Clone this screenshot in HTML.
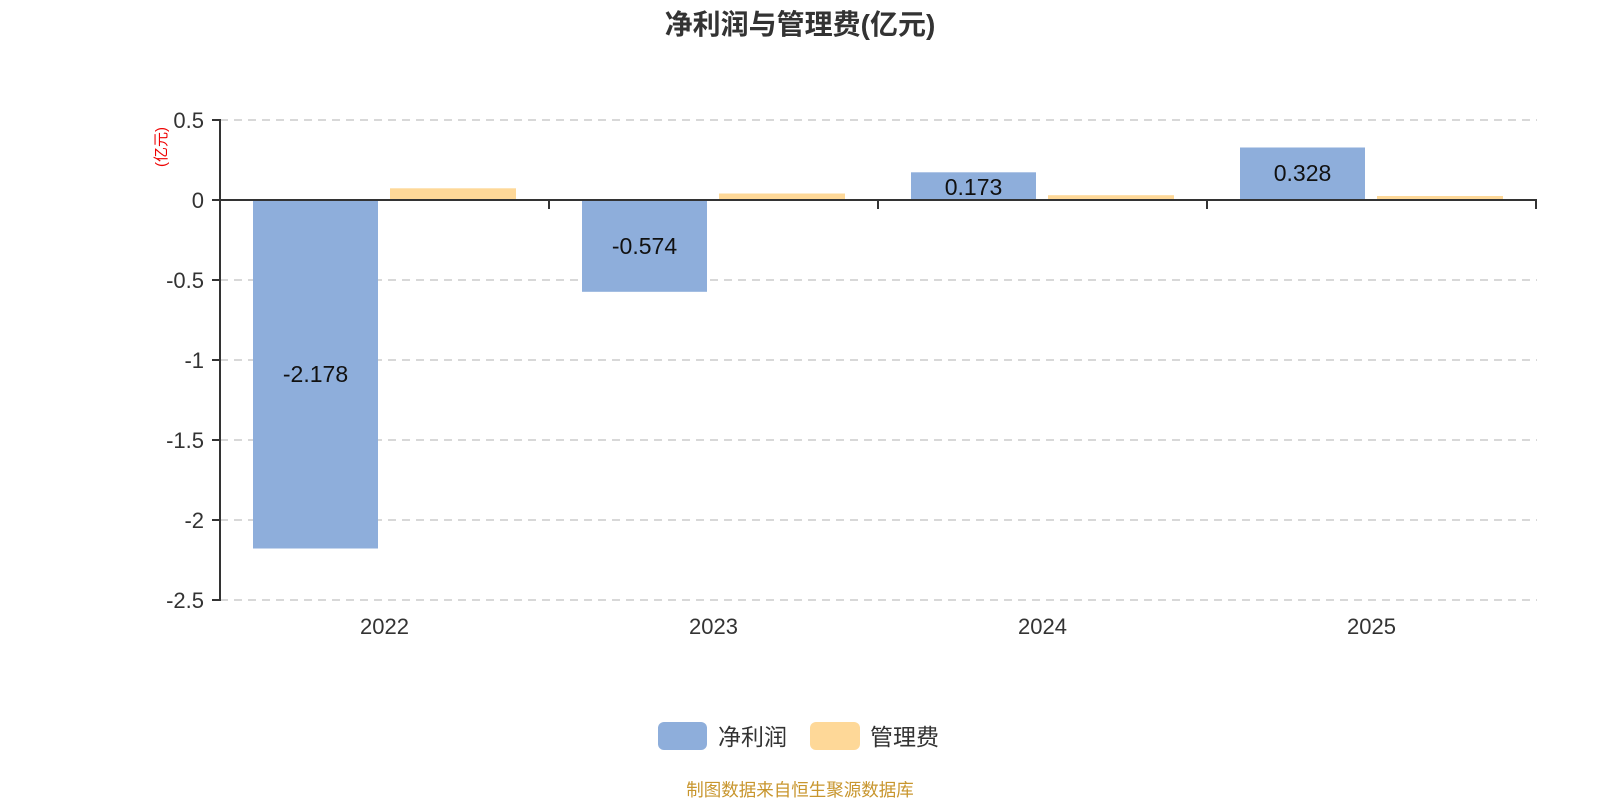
<!DOCTYPE html>
<html><head><meta charset="utf-8"><style>
html,body{margin:0;padding:0;background:#fff;}
svg{display:block;font-family:"Liberation Sans","Noto Sans CJK SC",sans-serif;}
</style></head><body>
<svg width="1600" height="800" viewBox="0 0 1600 800">
<text x="800" y="34" text-anchor="middle" font-size="28" font-weight="bold" fill="#333">净利润与管理费(亿元)</text>
<g stroke="#ccc" stroke-width="1.5" stroke-dasharray="8,6">
<line x1="220" y1="120" x2="1537" y2="120"/>
<line x1="220" y1="280" x2="1537" y2="280"/>
<line x1="220" y1="360" x2="1537" y2="360"/>
<line x1="220" y1="440" x2="1537" y2="440"/>
<line x1="220" y1="520" x2="1537" y2="520"/>
<line x1="220" y1="600" x2="1537" y2="600"/>
</g>
<g fill="#8eaedb">
<rect x="253" y="200" width="125" height="348.5"/>
<rect x="582" y="200" width="125" height="91.8"/>
<rect x="911" y="172.3" width="125" height="27.7"/>
<rect x="1240" y="147.5" width="125" height="52.5"/>
</g>
<g fill="#fed898">
<rect x="390" y="188.3" width="126" height="11.7"/>
<rect x="719" y="193.5" width="126" height="6.5"/>
<rect x="1048" y="195.2" width="126" height="4.8"/>
<rect x="1377" y="196" width="126" height="4"/>
</g>
<g stroke="#333" stroke-width="2" fill="none">
<line x1="220" y1="119" x2="220" y2="601"/>
<line x1="212" y1="120" x2="220" y2="120"/>
<line x1="212" y1="200" x2="220" y2="200"/>
<line x1="212" y1="280" x2="220" y2="280"/>
<line x1="212" y1="360" x2="220" y2="360"/>
<line x1="212" y1="440" x2="220" y2="440"/>
<line x1="212" y1="520" x2="220" y2="520"/>
<line x1="212" y1="600" x2="220" y2="600"/>
<line x1="220" y1="200" x2="1537" y2="200"/>
<line x1="549" y1="200" x2="549" y2="209"/>
<line x1="878" y1="200" x2="878" y2="209"/>
<line x1="1207" y1="200" x2="1207" y2="209"/>
<line x1="1536" y1="200" x2="1536" y2="209"/>
</g>
<g font-size="22" fill="#333" text-anchor="end">
<text x="204" y="128">0.5</text>
<text x="204" y="208">0</text>
<text x="204" y="288">-0.5</text>
<text x="204" y="368">-1</text>
<text x="204" y="448">-1.5</text>
<text x="204" y="528">-2</text>
<text x="204" y="608">-2.5</text>
</g>
<text transform="translate(166,147) rotate(-90)" text-anchor="middle" font-size="15" fill="#e00">(亿元)</text>
<g font-size="22" fill="#333" text-anchor="middle">
<text x="384.5" y="634">2022</text>
<text x="713.5" y="634">2023</text>
<text x="1042.5" y="634">2024</text>
<text x="1371.5" y="634">2025</text>
</g>
<g font-size="23" fill="#111" text-anchor="middle">
<text x="315.5" y="382">-2.178</text>
<text x="644.5" y="254">-0.574</text>
<text x="973.5" y="195">0.173</text>
<text x="1302.5" y="181">0.328</text>
</g>
<rect x="658" y="722" width="49" height="28" rx="6" fill="#8eaedb"/>
<text x="718" y="745" font-size="23" fill="#333">净利润</text>
<rect x="810" y="722" width="50" height="28" rx="6" fill="#fed898"/>
<text x="870" y="745" font-size="23" fill="#333">管理费</text>
<text x="800" y="796" text-anchor="middle" font-size="17.5" fill="#c8962e">制图数据来自恒生聚源数据库</text>
</svg>
</body></html>
